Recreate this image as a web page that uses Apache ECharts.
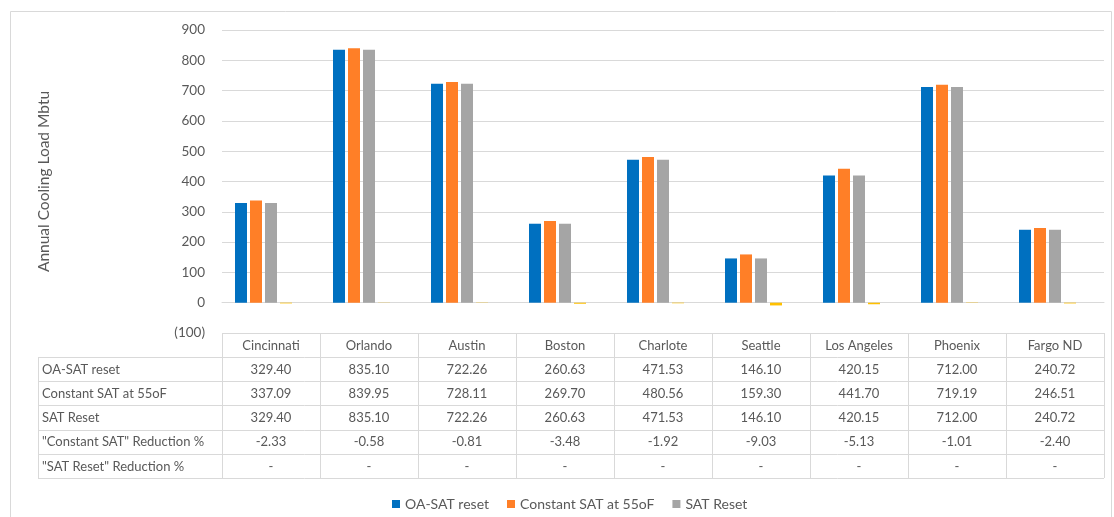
<!DOCTYPE html>
<html>
<head>
<meta charset="utf-8">
<script src="https://cdn.jsdelivr.net/npm/echarts@6/dist/echarts.min.js"></script>
<style>
html,body{margin:0;padding:0;background:#fff;}
#c{width:1114px;height:517px;}
</style>
</head>
<body>
<div id="c"></div>
<script>
const categories = ['Cincinnati','Orlando','Austin','Boston','Charlote','Seattle','Los Angeles','Phoenix','Fargo ND'];
const oaSatReset = [329.40, 835.10, 722.26, 260.63, 471.53, 146.10, 420.15, 712.00, 240.72];
const constantSat55 = [337.09, 839.95, 728.11, 269.70, 480.56, 159.30, 441.70, 719.19, 246.51];
const satReset = [329.40, 835.10, 722.26, 260.63, 471.53, 146.10, 420.15, 712.00, 240.72];
const constantSatReduction = [-2.33, -0.58, -0.81, -3.48, -1.92, -9.03, -5.13, -1.01, -2.40];
const satResetReduction = [null, null, null, null, null, null, null, null, null];
const seriesNames = ['OA-SAT reset', 'Constant SAT at 55oF', 'SAT Reset', '"Constant SAT" Reduction %', '"SAT Reset" Reduction %'];
const yTicks = {min: -100, max: 900, interval: 100};

const colors = ['#0070C0', '#FF7F27', '#A5A5A5', '#FFC000', '#4472C4'];
const seriesData = [oaSatReset, constantSat55, satReset, constantSatReduction, satResetReduction];
const FONT = 'Lato';
const TXT = '#595959';
const LINE = '#D9D9D9';

const W = 1114, H = 517;
const gridLeft = 222, gridRight = 10, gridTop = 30, gridBottom = 184;
const tableLeft = 38;
const headerTop = 333, headerH = 24, rowH = 24.2;

const chart = echarts.init(document.getElementById('c'), null, {renderer: 'canvas'});

function fmtCell(v){ return v === null || v === undefined ? '-' : v.toFixed(2); }

function buildTable(){
  const g = [];
  const plotW = W - gridLeft - gridRight;
  const colW = plotW / categories.length;
  const right = gridLeft + plotW;
  const nRows = seriesNames.length;
  const tableBottom = headerTop + headerH + nRows * rowH;
  const ls = {stroke: LINE, lineWidth: 1};
  const hl = (x1, x2, y) => g.push({type: 'line', shape: {x1, y1: Math.round(y)+0.5, x2, y2: Math.round(y)+0.5}, style: ls, silent: true});
  const vl = (x, y1, y2) => g.push({type: 'line', shape: {x1: Math.round(x)+0.5, y1, x2: Math.round(x)+0.5, y2}, style: ls, silent: true});
  hl(gridLeft, right, headerTop);
  for (let r = 0; r <= nRows; r++) hl(tableLeft, right, headerTop + headerH + r * rowH);
  vl(tableLeft, headerTop + headerH, tableBottom);
  for (let c = 0; c <= categories.length; c++) vl(gridLeft + c * colW, headerTop, tableBottom);
  const f = '13px ' + FONT;
  categories.forEach((cat, i) => {
    g.push({type: 'text', silent: true, style: {text: cat, x: gridLeft + (i + 0.5) * colW, y: headerTop + headerH / 2 + 0.5,
      align: 'center', verticalAlign: 'middle', font: f, fill: TXT}});
  });
  seriesNames.forEach((name, r) => {
    const yc = headerTop + headerH + (r + 0.5) * rowH + 0.5;
    g.push({type: 'text', silent: true, style: {text: name, x: tableLeft + 4, y: yc, align: 'left', verticalAlign: 'middle', font: f, fill: TXT}});
    seriesData[r].forEach((v, i) => {
      g.push({type: 'text', silent: true, style: {text: fmtCell(v), x: gridLeft + (i + 0.5) * colW, y: yc, align: 'center', verticalAlign: 'middle', font: f, fill: TXT}});
    });
  });
  g.push({type: 'rect', silent: true, shape: {x: 10.5, y: 11.5, width: 1101, height: 520}, style: {fill: null, stroke: LINE, lineWidth: 1}});
  return g;
}

const option = {
  animation: false,
  backgroundColor: '#fff',
  textStyle: {fontFamily: FONT},
  grid: {left: gridLeft, right: gridRight, top: gridTop, bottom: gridBottom, containLabel: false},
  legend: {
    data: seriesNames.slice(0, 3),
    left: 387, top: 492,
    itemWidth: 8, itemHeight: 8, itemGap: 18, icon: 'rect',
    textStyle: {color: TXT, fontSize: 14, fontFamily: FONT}
  },
  xAxis: {
    type: 'category', data: categories,
    axisLine: {onZero: true, lineStyle: {color: LINE, width: 1}},
    axisTick: {show: false}, axisLabel: {show: false}, splitLine: {show: false}
  },
  yAxis: {
    type: 'value', min: yTicks.min, max: yTicks.max, interval: yTicks.interval,
    name: 'Annual Cooling Load Mbtu', nameLocation: 'middle', nameGap: 170, nameRotate: 90,
    nameTextStyle: {color: TXT, fontSize: 15.5, fontFamily: FONT},
    axisLine: {show: false}, axisTick: {show: false},
    axisLabel: {color: TXT, fontSize: 13.5, fontFamily: FONT, margin: 17,
      formatter: v => v < 0 ? '(' + Math.abs(v) + ')' : String(v)},
    splitLine: {lineStyle: {color: LINE, width: 1}}
  },
  series: seriesNames.map((n, i) => ({
    name: n, type: 'bar', data: seriesData[i],
    barWidth: 12, barGap: '25%',
    itemStyle: {color: colors[i]},
    emphasis: {disabled: true}
  })),
  graphic: buildTable()
};
chart.setOption(option);
</script>
</body>
</html>
